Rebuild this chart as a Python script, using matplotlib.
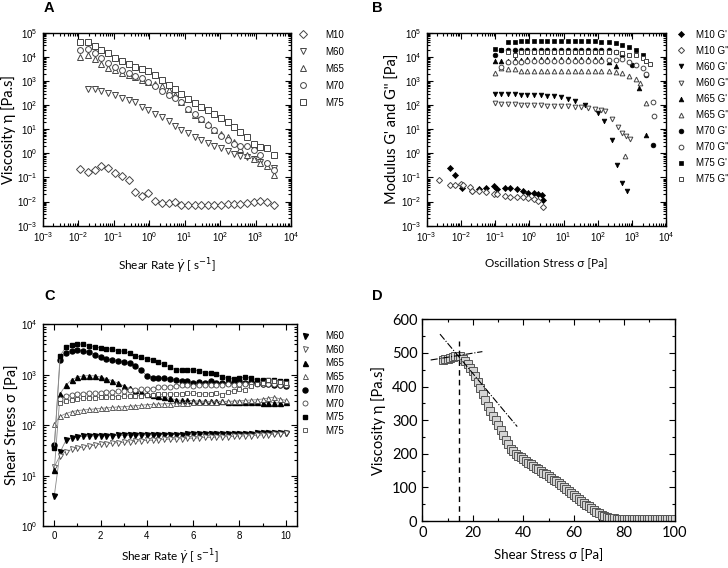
import numpy as np
import matplotlib
matplotlib.use("Agg")
import matplotlib.pyplot as plt
from matplotlib.ticker import MultipleLocator
from matplotlib.legend_handler import HandlerLine2D

plt.rcParams['font.family'] = ['Liberation Sans', 'DejaVu Sans']
plt.rcParams['mathtext.fontset'] = 'dejavusans'
LBL = ['Lato', 'Open Sans', 'DejaVu Sans']

# ---------------- panel A : viscosity vs shear rate ----------------
rate_a = [0.0112, 0.0186, 0.0295, 0.0447, 0.0708, 0.110, 0.170, 0.263, 0.407, 0.617,
          0.955, 1.48, 2.29, 3.55, 5.37, 7.94, 12.3, 19.1, 29.5, 45.7,
          69.2, 107, 166, 240, 363, 562, 891, 1349, 2089, 3236]
visc_m10 = [0.23, 0.17, 0.21, 0.30, 0.25, 0.15, 0.115, 0.079, 0.025, 0.017,
            0.022, 0.011, 0.0091, 0.0091, 0.010, 0.0074, 0.0074, 0.0074, 0.0074, 0.0074,
            0.0074, 0.0074, 0.0076, 0.0078, 0.0083, 0.0089, 0.010, 0.0105, 0.010, 0.0074]
visc_m60 = [450, 450, 400, 330, 265, 205, 165, 130, 87, 63,
            44, 32, 21, 14, 9.5, 6.9, 4.8, 3.5, 2.7, 1.95,
            1.6, 1.23, 0.98, 0.81, 0.72, 0.56, 0.44, 0.33, 0.24]
visc_m65 = [10000, 12300, 8500, 5000, 3550, 2800, 2200, 1740, 1400, 1100,
            930, 740, 620, 430, 260, 140, 68, 40, 26, 17,
            8.9, 6.6, 4.8, 2.9, 1.55, 0.89, 0.59, 0.41, 0.30, 0.126]
visc_m70 = [18600, 20400, 13800, 9100, 5600, 3900, 2800, 2200, 1580, 1320,
            930, 620, 400, 250, 200, 129, 69, 44, 26, 15.5,
            8.9, 5.1, 3.5, 2.5, 1.95, 1.95, 1.32, 0.83, 0.41, 0.21]
visc_m75 = [42700, 39800, 28200, 18600, 13800, 8710, 6460, 5010, 3890, 3020,
            2570, 1740, 1100, 676, 447, 282, 182, 123, 87, 60,
            43, 29, 19, 12, 7.4, 4.7, 2.5, 1.9, 1.6, 0.83]

# ---------------- panel B : amplitude sweep ----------------
m10_gp_x = [0.0048, 0.0065, 0.0105, 0.021, 0.034, 0.054, 0.093, 0.115, 0.195, 0.275,
            0.427, 0.646, 0.933, 1.32, 1.82, 2.30, 2.57]
m10_gp_y = [0.245, 0.126, 0.037, 0.027, 0.032, 0.035, 0.044, 0.032, 0.038, 0.035,
            0.032, 0.028, 0.023, 0.022, 0.021, 0.019, 0.012]
m10_gpp_x = [0.0023, 0.0048, 0.0065, 0.0100, 0.0118, 0.0186, 0.021, 0.034, 0.054, 0.093,
             0.115, 0.195, 0.275, 0.427, 0.646, 0.933, 1.32, 1.82, 2.45]
m10_gpp_y = [0.075, 0.047, 0.047, 0.056, 0.047, 0.041, 0.028, 0.027, 0.024, 0.021,
             0.020, 0.017, 0.016, 0.016, 0.015, 0.014, 0.013, 0.011, 0.006]

m60_gp_x = [0.100, 0.145, 0.234, 0.372, 0.550, 0.871, 1.35, 2.14, 3.31, 5.13,
            8.13, 13.2, 20.9, 40.7, 100, 155, 257, 363, 500, 708]
m60_gp_y = [290, 280, 280, 275, 270, 265, 260, 255, 245, 230,
            215, 185, 145, 105, 48, 22, 3.5, 0.33, 0.06, 0.027]
m60_gpp_x = [0.100, 0.145, 0.234, 0.372, 0.550, 0.871, 1.35, 2.14, 3.31, 5.13,
             8.13, 13.2, 20.9, 32.4, 51.3, 79.4, 126, 165, 250, 380, 520, 680, 850]
m60_gpp_y = [125, 115, 110, 108, 105, 102, 100, 98, 96, 94,
             92, 90, 87, 83, 78, 70, 62, 55, 27, 12, 7, 5, 3.8]
m65_gp_x = [0.100, 0.145, 0.234, 0.372, 0.550, 0.871, 1.35, 2.14, 3.31, 5.13,
            8.13, 13.2, 20.9, 32.4, 51.3, 79.4, 126, 209, 331, 1585, 2600]
m65_gp_y = [6800, 7000, 6800, 7200, 7500, 7800, 8000, 8000, 8000, 8000,
            8000, 8000, 8000, 8000, 8000, 8000, 8000, 6300, 4200, 520, 5.5]
m65_gpp_x = [0.100, 0.145, 0.234, 0.372, 0.550, 0.871, 1.35, 2.14, 3.31, 5.13,
             8.13, 13.2, 20.9, 32.4, 51.3, 79.4, 126, 209, 331, 501,
             600, 794, 1259, 1700, 2600]
m65_gpp_y = [2200, 3500, 3100, 3100, 2700, 2700, 2700, 2700, 2700, 2700,
             2700, 2700, 2700, 2700, 2700, 2700, 2600, 2500, 2400, 2100,
             0.75, 1600, 1200, 800, 125]
m70_gp_x = [0.100, 0.145, 0.234, 0.372, 0.550, 0.871, 1.35, 2.14, 3.31, 5.13,
            8.13, 13.2, 20.9, 32.4, 51.3, 79.4, 126, 209, 331, 501,
            1000, 2600, 4100]
m70_gp_y = [12000, 19000, 19500, 20000, 20000, 20000, 20000, 20000, 20000, 20000,
            20000, 20000, 20000, 20000, 20000, 20000, 19500, 18500, 16000, 12000,
            4800, 1700, 2.2]
m70_gpp_x = [0.145, 0.234, 0.372, 0.550, 0.871, 1.35, 2.14, 3.31, 5.13,
             8.13, 13.2, 20.9, 32.4, 51.3, 79.4, 126, 209, 331, 501,
             794, 1259, 1995, 2600, 4100, 4300]
m70_gpp_y = [3800, 6000, 6200, 6000, 6500, 7000, 7000, 7000, 7000,
             7000, 7000, 7000, 7000, 7000, 7000, 7000, 7200, 7500, 8000,
             6300, 4800, 3400, 2000, 140, 35]
m75_gp_x = [0.100, 0.145, 0.234, 0.372, 0.550, 0.871, 1.35, 2.14, 3.31, 5.13,
            8.13, 13.2, 20.9, 32.4, 51.3, 79.4, 126, 209, 331, 501,
            794, 1259, 1995, 2600]
m75_gp_y = [22000, 20000, 42000, 40000, 44000, 45000, 45000, 45000, 45000, 45000,
            45000, 45000, 45000, 45000, 45000, 44000, 43000, 40000, 36000, 30000,
            25000, 19000, 12000, 6500]
m75_gpp_x = [0.234, 0.372, 0.550, 0.871, 1.35, 2.14, 3.31, 5.13,
             8.13, 13.2, 20.9, 32.4, 51.3, 79.4, 126, 209, 331, 501,
             794, 1259, 1995, 2600, 3400]
m75_gpp_y = [16000, 12500, 16000, 16000, 16000, 16000, 16000, 16000,
             16000, 16000, 16000, 16000, 16000, 16000, 16000, 16000, 15500, 14000,
             12500, 12000, 9000, 6500, 5000]

# ---------------- panel C : flow curves ----------------
rate_c = np.linspace(0, 10, 41)
nan = np.nan
tau_m60_gp = [4, 29, 50, 56, 59, 60, 61, 61, 62, 62, 62, 63, 63, 63, 63, 64, 64, 64, 64, 65, 65,
              65, 65, 66, 66, 66, 66, 67, 67, 67, 67, 68, 68, 68, 68, 69, 69, 69, 70, 70, 71]
tau_m60_op = [15, 25, 30, 33, 35, 37, 39, 40, 42, 43, 44, 45, 46, 47, 48, 49, 50, 50, 51, 52, 53,
              53, 54, 55, 55, 56, 57, 57, 58, 59, 59, 60, 61, 61, 62, 63, 64, 65, 66, 68, 70]
tau_m65_gp = [13, 420, 620, 800, 900, 950, 960, 950, 900, 830, 760, 680, 600, 540, 490, 450, 420,
              400, 380, 360, 340, 320, 310, 310, 305, 300, 300, 295, 300, 295, 290, 290, 290,
              285, 285, 285, 280, 280, 280, 275, 285]
tau_m65_op = [105, 150, 170, 185, 195, 200, 205, 210, 215, 220, 225, 230, 232, 238, 242, 248, 255,
              258, 262, 265, 268, 272, 275, 278, 282, 285, 288, 290, 292, 295, 298, 300, 305,
              310, 315, 320, 330, 345, 360, 330, 310]
tau_m70_gp = [40, 2000, 2700, 3000, 3100, 3000, 2800, 2500, 2200, 2050, 1950, 1850, 1800, 1700,
              1500, 1250, 950, 880, 870, 860, 820, 780, 760, 740, 700, 720, 700, 740, 700, 680,
              700, 720, 740, 700, 720, 680, 650, 660, 640, 620, 600]
tau_m70_op = [nan, 330, 380, 400, 410, 420, 430, 430, 440, 450, 460, 470, 480, 490, 500, 510, 520,
              530, 560, 570, 580, 600, 620, 620, 590, 620, 630, 620, 640, 640, 650, 640, 650,
              660, 650, 650, 660, 660, 650, 640, 620]
tau_m75_gp = [35, 2400, 3500, 3900, 4100, 4000, 3800, 3600, 3400, 3300, 3200, 3000, 2900, 2700,
              2400, 2200, 2100, 2000, 1800, 1600, 1400, 1250, 1250, 1250, 1250, 1200, 1100, 1080,
              1050, 900, 850, 830, 870, 900, 850, 800, 780, 800, 780, 760, 760]
tau_m75_op = [nan, 270, 300, 320, 330, 340, 345, 350, 355, 360, 365, 370, 375, 380, 380, 385, 390,
              400, 410, 410, 420, 410, 420, 430, 430, 420, 410, 420, 430, 400, 450, 480, 520,
              500, 600, 650, 700, 800, 750, 720, 700]

# ---------------- panel D : stress ramp ----------------
stress_d = np.arange(8, 101)
visc_d = [480, 481, 483, 486, 488, 490, 491, 491, 482, 475, 466, 456, 445, 430, 415, 396, 378,
          360, 342, 326, 312, 300, 287, 272, 257, 242, 228, 215, 207, 200, 194, 189, 184, 179,
          174, 169, 164, 159, 154, 149, 144, 139, 134, 129, 123, 118, 112, 107, 101, 95, 89,
          84, 78, 72, 66, 61, 55, 49, 44, 38, 33, 28, 23, 19, 15, 12, 10, 9, 8, 7, 7, 6, 6,
          6, 6, 6, 6, 6, 6, 6, 6, 6, 6, 6, 6, 6, 6, 6, 6, 6, 6, 6, 6]
yield_stress = 14.5
tangent_low_x = [3.3, 23.8]
tangent_low_y = [479, 504]
tangent_high_x = [7.0, 37.6]
tangent_high_y = [556, 281]

fig = plt.figure(figsize=(7.28, 5.68), dpi=100)
axA = fig.add_axes([0.0587, 0.6026, 0.341, 0.3398])
axB = fig.add_axes([0.5861, 0.6026, 0.3294, 0.3398])
axC = fig.add_axes([0.0587, 0.0739, 0.3497, 0.3551])
axD = fig.add_axes([0.5801, 0.0827, 0.3467, 0.3551])

OPEN = '#444444'
tick_fs = 7
xl_fs = 8.5
yl_fs = 10.5


def style(ax, fs=tick_fs):
    ax.tick_params(which='both', direction='in', top=True, right=True, labelsize=fs, width=0.8)
    ax.tick_params(which='major', length=4)
    ax.tick_params(which='minor', length=2)
    for s in ax.spines.values():
        s.set_linewidth(1.0)


def opn(ax, x, y, m, ms, label):
    return ax.plot(x, y, m, ls='none', ms=ms, mfc='white', mec=OPEN, mew=0.7, label=label)


def fil(ax, x, y, m, ms, label):
    return ax.plot(x, y, m, ls='none', ms=ms, mfc='black', mec='black', mew=0.5, label=label)


# A
ms = 4.2
opn(axA, rate_a, visc_m10, 'D', ms - 0.4, 'M10')
opn(axA, rate_a[1:], visc_m60, 'v', ms + 0.4, 'M60')
opn(axA, rate_a, visc_m65, '^', ms + 0.4, 'M65')
opn(axA, rate_a, visc_m70, 'o', ms, 'M70')
opn(axA, rate_a, visc_m75, 's', ms, 'M75')
axA.set_xscale('log')
axA.set_yscale('log')
axA.set_xlim(1e-3, 1e4)
axA.set_ylim(1e-3, 1e5)
style(axA)
axA.set_xlabel('Shear Rate $\\dot{\\gamma}$ [ s$^{-1}$]', family=LBL, fontsize=xl_fs, labelpad=9)
axA.set_ylabel('Viscosity η [Pa.s]', family=LBL, fontsize=yl_fs, labelpad=1)
axA.legend(loc='upper left', bbox_to_anchor=(1.03, 1.015), frameon=False, fontsize=7,
           handlelength=1.0, handletextpad=1.8, labelspacing=0.72, borderpad=0, borderaxespad=0)

# B
ms = 3.4
fil(axB, m10_gp_x, m10_gp_y, 'D', ms - 0.3, "M10 G'")
opn(axB, m10_gpp_x, m10_gpp_y, 'D', ms - 0.3, 'M10 G"')
fil(axB, m60_gp_x, m60_gp_y, 'v', ms, "M60 G'")
opn(axB, m60_gpp_x, m60_gpp_y, 'v', ms, 'M60 G"')
fil(axB, m65_gp_x, m65_gp_y, '^', ms, "M65 G'")
opn(axB, m65_gpp_x, m65_gpp_y, '^', ms, 'M65 G"')
fil(axB, m70_gp_x, m70_gp_y, 'o', ms, "M70 G'")
opn(axB, m70_gpp_x, m70_gpp_y, 'o', ms, 'M70 G"')
fil(axB, m75_gp_x, m75_gp_y, 's', ms - 0.2, "M75 G'")
opn(axB, m75_gpp_x, m75_gpp_y, 's', ms - 0.2, 'M75 G"')
axB.set_xscale('log')
axB.set_yscale('log')
axB.set_xlim(1e-3, 1e4)
axB.set_ylim(1e-3, 1e5)
style(axB)
axB.set_xlabel('Oscillation Stress σ [Pa]', family=LBL, fontsize=xl_fs, labelpad=9)
axB.set_ylabel("Modulus G' and G'' [Pa]", family=LBL, fontsize=yl_fs, labelpad=1)
axB.legend(loc='upper left', bbox_to_anchor=(1.04, 1.015), frameon=False, fontsize=7,
           handlelength=1.0, handletextpad=1.0, labelspacing=0.62, borderpad=0, borderaxespad=0)

# C
ms = 3.6
lk = dict(color='#888888', lw=0.6)
axC.plot(rate_c, tau_m60_gp, '-', marker='v', ms=ms, mfc='black', mec='black', label='M60', **lk)
axC.plot(rate_c, tau_m60_op, '-', marker='v', ms=ms, mfc='white', mec=OPEN, mew=0.6, label='M60', **lk)
axC.plot(rate_c, tau_m65_gp, '-', marker='^', ms=ms, mfc='black', mec='black', label='M65', **lk)
axC.plot(rate_c, tau_m65_op, '-', marker='^', ms=ms, mfc='white', mec=OPEN, mew=0.6, label='M65', **lk)
axC.plot(rate_c, tau_m70_gp, '-', marker='o', ms=ms, mfc='black', mec='black', label='M70', **lk)
axC.plot(rate_c, tau_m70_op, '-', marker='o', ms=ms, mfc='white', mec=OPEN, mew=0.6, label='M70', **lk)
axC.plot(rate_c, tau_m75_gp, '-', marker='s', ms=ms - 0.3, mfc='black', mec='black', label='M75', **lk)
axC.plot(rate_c, tau_m75_op, '-', marker='s', ms=ms - 0.3, mfc='white', mec=OPEN, mew=0.6, label='M75', **lk)
axC.set_yscale('log')
axC.set_xlim(-0.5, 10.5)
axC.set_ylim(1, 1e4)
axC.xaxis.set_major_locator(MultipleLocator(2))
axC.xaxis.set_minor_locator(MultipleLocator(1))
style(axC)
axC.set_xlabel('Shear Rate $\\dot{\\gamma}$ [ s$^{-1}$]', family=LBL, fontsize=xl_fs, labelpad=5)
axC.set_ylabel('Shear Stress σ [Pa]', family=LBL, fontsize=yl_fs, labelpad=1)
hC, _ = axC.get_legend_handles_labels()
legC = axC.legend(loc='upper left', bbox_to_anchor=(1.01, 0.965), frameon=False, fontsize=7,
                  handlelength=1.0, handletextpad=1.6, labelspacing=0.36, borderpad=0, borderaxespad=0,
                  handler_map={h: HandlerLine2D(marker_pad=0) for h in hC})
for h in legC.get_lines():
    h.set_linestyle('none')

# D
axD.plot(stress_d, visc_d, 's', ls='none', ms=5.6, mfc='#d4d4d4', mec='#555555', mew=0.7)
axD.plot([yield_stress, yield_stress], [0, 535], color='black', ls=(0, (4, 3)), lw=1.0)
axD.plot(tangent_low_x, tangent_low_y, color='black', ls='-.', lw=0.8)
axD.plot(tangent_high_x, tangent_high_y, color='black', ls='-.', lw=0.8)
axD.set_xlim(0, 100)
axD.set_ylim(0, 600)
axD.xaxis.set_major_locator(MultipleLocator(20))
axD.xaxis.set_minor_locator(MultipleLocator(10))
axD.yaxis.set_major_locator(MultipleLocator(100))
axD.yaxis.set_minor_locator(MultipleLocator(50))
style(axD, fs=10.5)
for t in axD.get_xticklabels() + axD.get_yticklabels():
    t.set_family(LBL)
axD.set_xlabel('Shear Stress σ [Pa]', family=LBL, fontsize=9.5, labelpad=6)
axD.set_ylabel('Viscosity η [Pa.s]', family=LBL, fontsize=yl_fs, labelpad=4)

for lab, x, y in [('A', 49, 8), ('B', 377, 8), ('C', 50, 296), ('D', 377, 296)]:
    fig.text(x / 728, 1 - y / 568, lab, fontsize=10.5, fontweight='bold', ha='center', va='center')

fig.savefig('out.png', dpi=100)
